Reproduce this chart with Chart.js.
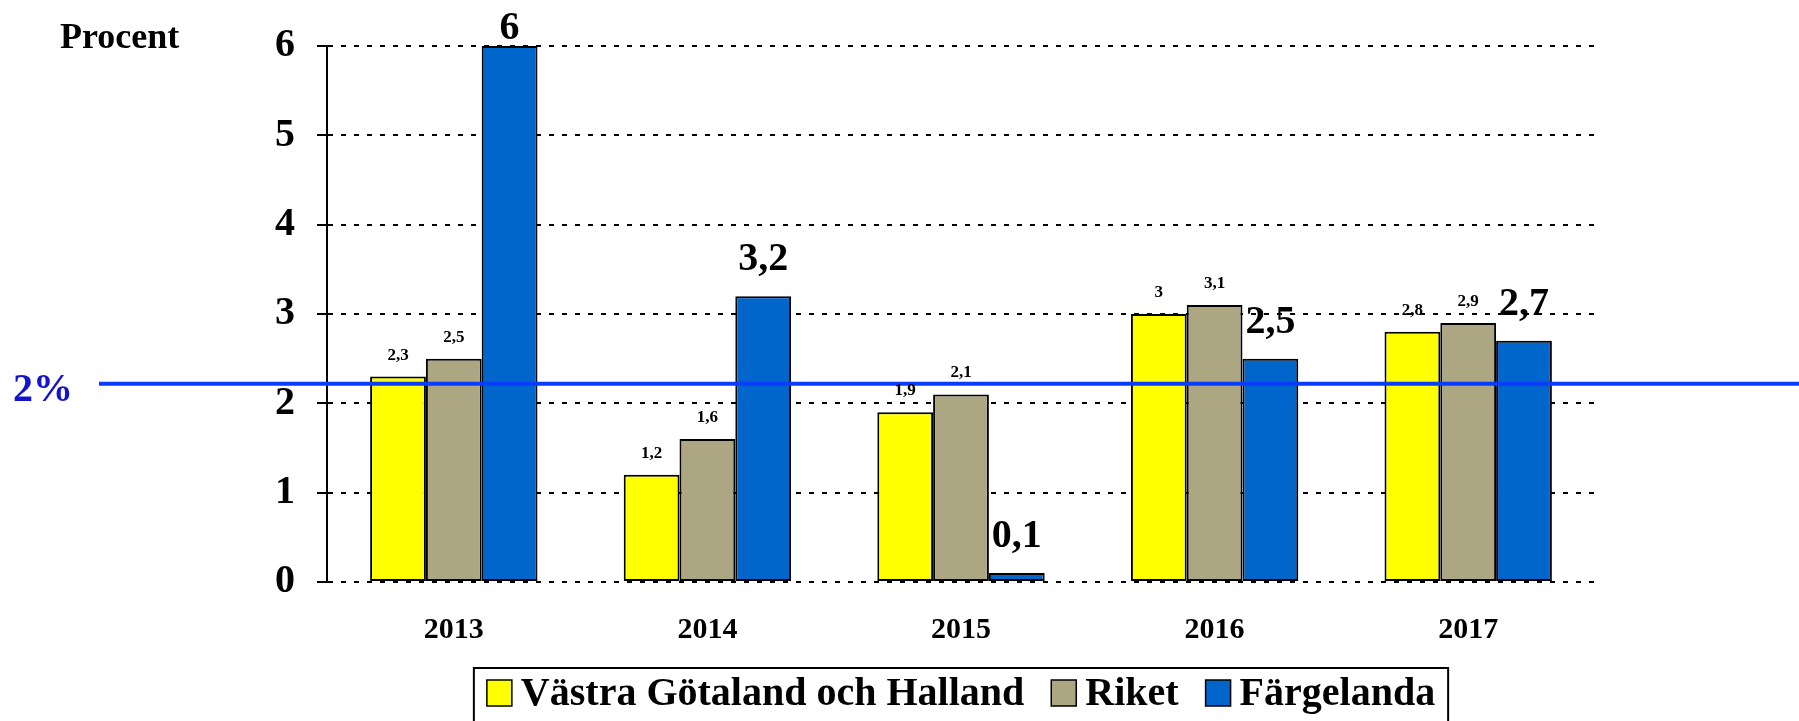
<!DOCTYPE html>
<html>
<head>
<meta charset="utf-8">
<script src="https://cdn.jsdelivr.net/npm/chart.js@4"></script>
<style>
  html, body { margin: 0; padding: 0; background: #fff; }
  #wrap { width: 1799px; height: 721px; position: relative; }
</style>
</head>
<body>
<div id="wrap"><canvas id="sick_chart"></canvas></div>
<script>
"use strict";
var years = ["2013", "2014", "2015", "2016", "2017"];
var vastraGotaland = [2.3, 1.2, 1.9, 3, 2.8];
var riket = [2.5, 1.6, 2.1, 3.1, 2.9];
var fargelanda = [6, 3.2, 0.1, 2.5, 2.7];
var seriesNames = ["Västra Götaland och Halland", "Riket", "Färgelanda"];
var yTicks = [0, 1, 2, 3, 4, 5, 6];
var targetValue = 2.22;
var targetText = "2%";
var axisTitle = "Procent";

var serif = "'Liberation Serif', 'Times New Roman', serif";

/* value labels above the bars */
var valueLabels = {
  id: "valueLabels",
  afterDatasetsDraw: function (chart) {
    var ctx = chart.ctx;
    chart.data.datasets.forEach(function (ds, i) {
      var big = i === 2;
      var meta = chart.getDatasetMeta(i);
      ctx.save();
      ctx.fillStyle = "#000";
      ctx.font = "bold " + (big ? 40 : 17) + "px " + serif;
      ctx.textAlign = "center";
      ctx.textBaseline = "alphabetic";
      meta.data.forEach(function (bar, j) {
        var y = bar.y - (big ? 26 : 17);
        if (big) y = Math.max(y, 39);
        ctx.fillText(String(ds.data[j]).replace(".", ","), bar.x, y);
      });
      ctx.restore();
    });
  },
};

/* the blue 2% line */
var targetLine = {
  id: "targetLine",
  afterDatasetsDraw: function (chart) {
    var ctx = chart.ctx;
    var y = chart.scales.y.getPixelForValue(targetValue);
    ctx.save();
    ctx.strokeStyle = "#0a3cff";
    ctx.lineWidth = 4;
    ctx.beginPath();
    ctx.moveTo(99, y);
    ctx.lineTo(chart.width, y);
    ctx.stroke();
    ctx.fillStyle = "#1414cc";
    ctx.font = "bold 40px " + serif;
    ctx.textAlign = "left";
    ctx.textBaseline = "alphabetic";
    ctx.fillText(targetText, 13, y + 17);
    ctx.restore();
  },
};

/* axis title + boxed legend */
var extras = {
  id: "extras",
  afterDraw: function (chart) {
    var ctx = chart.ctx;
    ctx.save();
    ctx.fillStyle = "#000";
    ctx.textBaseline = "alphabetic";
    ctx.textAlign = "left";
    ctx.font = "bold 36px " + serif;
    ctx.fillText(axisTitle, 60, 48);

    ctx.font = "bold 40px " + serif;
    var items = chart.data.datasets.map(function (ds) {
      return { text: ds.label, color: ds.backgroundColor, w: ctx.measureText(ds.label).width };
    });
    var sw = 25, sh = 26, gap = 9, itemGap = 27, pad = 13;
    var total = itemGap * (items.length - 1);
    items.forEach(function (it) { total += sw + gap + it.w; });
    var x = (chart.chartArea.left + chart.chartArea.right) / 2 - total / 2;
    ctx.lineWidth = 2;
    ctx.strokeStyle = "#000";
    ctx.strokeRect(x - pad, 668, total + 2 * pad, 80);
    items.forEach(function (it) {
      ctx.fillStyle = it.color;
      ctx.fillRect(x, 680, sw, sh);
      ctx.lineWidth = 1.5;
      ctx.strokeRect(x, 680, sw, sh);
      ctx.fillStyle = "#000";
      ctx.fillText(it.text, x + sw + gap, 705);
      x += sw + gap + it.w + itemGap;
    });
    ctx.restore();
  },
};

new Chart("sick_chart", {
  type: "bar",
  data: {
    labels: years,
    datasets: [
      { label: seriesNames[0], data: vastraGotaland, backgroundColor: "#ffff00" },
      { label: seriesNames[1], data: riket, backgroundColor: "#ada682" },
      { label: seriesNames[2], data: fargelanda, backgroundColor: "#0066cc" },
    ],
  },
  options: {
    responsive: true,
    maintainAspectRatio: false,
    animation: false,
    layout: { padding: { top: 44, right: 204, bottom: 0, left: 0 } },
    datasets: {
      bar: {
        categoryPercentage: 0.66,
        barPercentage: 1,
        borderColor: "#000",
        borderWidth: 2,
        borderSkipped: false,
      },
    },
    plugins: {
      legend: { display: false },
      tooltip: { enabled: false },
    },
    scales: {
      y: {
        min: yTicks[0],
        max: yTicks[yTicks.length - 1],
        afterBuildTicks: function (s) {
          s.ticks = yTicks.map(function (v) { return { value: v }; });
        },
        afterFit: function (s) { s.width = 327; },
        ticks: {
          padding: 22,
          color: "#000",
          font: { family: serif, size: 40, weight: "bold" },
        },
        grid: {
          color: "#000",
          lineWidth: 2,
          tickLength: 10,
          tickWidth: 2,
          tickColor: "#000",
          tickBorderDash: [20, 0],
        },
        border: { display: true, color: "#000", width: 2, dash: [5, 8] },
      },
      x: {
        afterFit: function (s) { s.height = 139; },
        grid: { display: false, drawTicks: false },
        border: { display: false },
        ticks: {
          padding: 30,
          maxRotation: 0,
          color: "#000",
          font: { family: serif, size: 30, weight: "bold" },
        },
      },
    },
  },
  plugins: [targetLine, valueLabels, extras],
});
</script>
</body>
</html>
